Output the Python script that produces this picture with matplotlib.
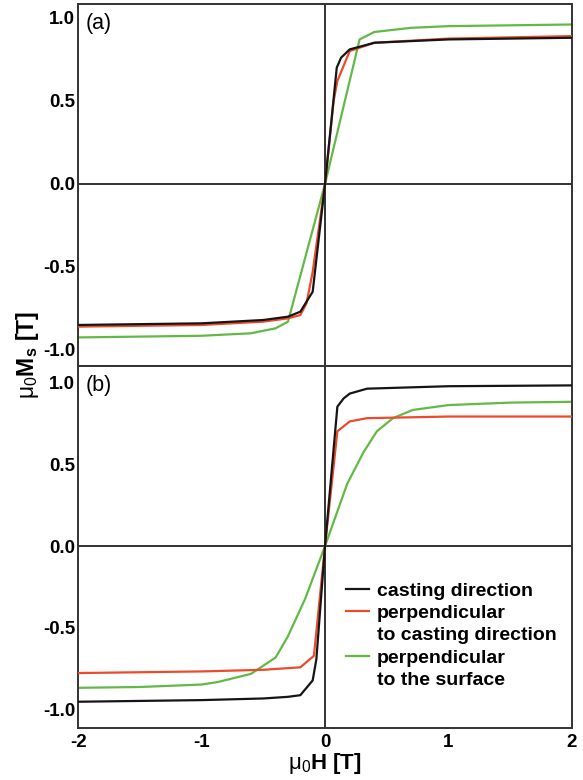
import matplotlib
matplotlib.use("Agg")
import matplotlib.pyplot as plt
from matplotlib.lines import Line2D

plt.rcParams['font.family'] = ['Liberation Sans', 'DejaVu Sans']
plt.rcParams['mathtext.fontset'] = 'custom'
plt.rcParams['mathtext.rm'] = 'Liberation Sans'
plt.rcParams['mathtext.bf'] = 'Liberation Sans:bold'
plt.rcParams['mathtext.it'] = 'Liberation Sans'

# panel (a)
h_a_cast = [-2, -1, -0.5, -0.3, -0.2, -0.1, 0, 0.095, 0.13, 0.2, 0.4, 1, 2]
m_a_cast = [-0.85, -0.84, -0.82, -0.8, -0.77, -0.65, 0, 0.70, 0.76, 0.81, 0.85, 0.87, 0.88]
h_a_perp = [-2, -1, -0.5, -0.3, -0.2, -0.15, -0.1, 0, 0.07, 0.1, 0.2, 0.4, 1, 2]
m_a_perp = [-0.86, -0.85, -0.83, -0.81, -0.79, -0.72, -0.53, 0, 0.5, 0.62, 0.80, 0.85, 0.875, 0.89]
h_a_surf = [-2, -1, -0.6, -0.4, -0.3, 0, 0.28, 0.4, 0.7, 1, 1.5, 2]
m_a_surf = [-0.925, -0.915, -0.9, -0.87, -0.83, 0, 0.87, 0.915, 0.94, 0.95, 0.955, 0.96]

# panel (b)
h_b_cast = [-2, -1, -0.5, -0.3, -0.2, -0.1, -0.07, 0, 0.1, 0.15, 0.2, 0.34, 1, 2]
m_b_cast = [-0.95, -0.94, -0.93, -0.92, -0.91, -0.82, -0.69, 0, 0.85, 0.9, 0.93, 0.96, 0.975, 0.98]
h_b_perp = [-2, -1, -0.5, -0.2, -0.09, 0, 0.1, 0.2, 0.34, 1, 2]
m_b_perp = [-0.775, -0.765, -0.755, -0.74, -0.67, 0, 0.70, 0.76, 0.78, 0.79, 0.79]
h_b_surf = [-2, -1.5, -1, -0.87, -0.6, -0.4, -0.3, -0.16, 0, 0.18, 0.31, 0.42, 0.55, 0.71, 1, 1.5, 2]
m_b_surf = [-0.865, -0.86, -0.845, -0.83, -0.78, -0.68, -0.55, -0.32, 0, 0.38, 0.57, 0.70, 0.78, 0.83, 0.86, 0.875, 0.88]

labels = ['casting direction', 'perpendicular', 'to casting direction',
          'perpendicular', 'to the surface']
c_cast = '#151515'
c_perp = '#ec4a2a'
c_surf = '#62b946'

fig = plt.figure(figsize=(5.83, 7.8), dpi=100)
ax1 = fig.add_axes([0.134, 0.531, 0.847, 0.464])
ax2 = fig.add_axes([0.134, 0.0667, 0.847, 0.464])

for ax, data, ylim, tag in [
    (ax1, [(h_a_cast, m_a_cast), (h_a_perp, m_a_perp), (h_a_surf, m_a_surf)], (-1.096, 1.084), '(a)'),
    (ax2, [(h_b_cast, m_b_cast), (h_b_perp, m_b_perp), (h_b_surf, m_b_surf)], (-1.11, 1.098), '(b)'),
]:
    ax.axhline(0, color='#222222', lw=1.3, zorder=1)
    ax.axvline(0, color='#222222', lw=1.3, zorder=1)
    # green first so black/red sit on top like in the original
    ax.plot(*data[2], color=c_surf, lw=1.6, zorder=2)
    ax.plot(*data[1], color=c_perp, lw=1.6, zorder=3)
    ax.plot(*data[0], color=c_cast, lw=1.6, zorder=4)
    ax.set_xlim(-2, 2)
    ax.set_ylim(*ylim)
    ax.set_yticks([-1.0, -0.5, 0.0, 0.5, 1.0])
    ax.set_yticklabels(['-1.0', '-0.5', '0.0', '0.5', '1.0'])
    ax.tick_params(length=0, labelsize=13.5, pad=2)
    for lab in ax.get_yticklabels():
        lab.set_fontweight('bold')
    for s in ax.spines.values():
        s.set_color('#333333')
        s.set_linewidth(1.4)
    ax.text(0.016, 0.975, tag, transform=ax.transAxes, ha='left', va='top', fontsize=15.5)

ax1.set_xticks([])
ax2.set_xticks([-2, -1, 0, 1, 2])
ax2.set_xticklabels(['-2', '-1', '0', '1', '2'])
ax2.tick_params(axis='x', pad=4)
for lab in ax2.get_xticklabels():
    lab.set_fontweight('bold')
    lab.set_fontsize(13.5)

ax2.set_xlabel(r'$\mathrm{\mu_0}\mathbf{H\ [T]}$', fontsize=16, labelpad=0)
fig.text(0.048, 0.545, r'$\mathrm{\mu_0}\mathbf{M_s\ [T]}$', rotation=90,
         ha='center', va='center', fontsize=16.5)

handles = [Line2D([], [], color=c_cast, lw=1.6),
           Line2D([], [], color=c_perp, lw=1.6),
           Line2D([], [], color='none'),
           Line2D([], [], color=c_surf, lw=1.6),
           Line2D([], [], color='none')]
leg = ax2.legend(handles, labels, loc='lower right', bbox_to_anchor=(0.985, 0.085),
                 frameon=False, handlelength=1.2, handletextpad=0.4,
                 labelspacing=0.25, borderaxespad=0,
                 prop={'family': 'Liberation Sans', 'weight': 'bold', 'size': 14})

fig.savefig('out.png', dpi=100)
